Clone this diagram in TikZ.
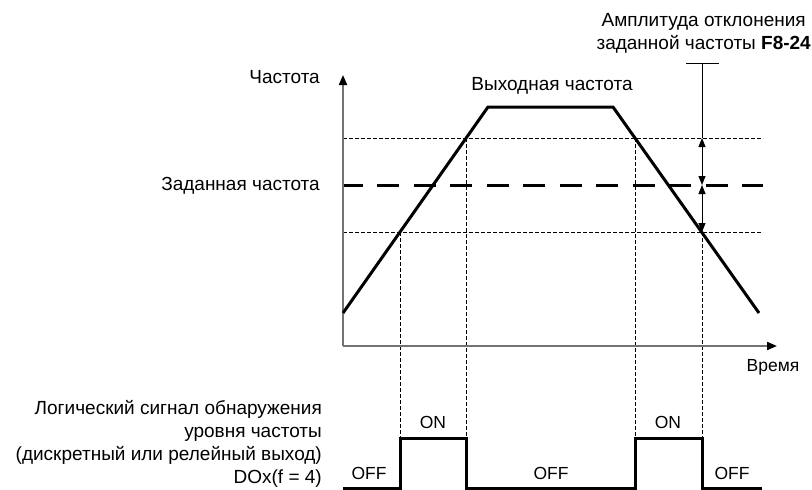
\documentclass[tikz,border=0pt]{standalone}
\usepackage{fontspec}
\setmainfont{Liberation Sans}
\usetikzlibrary{arrows.meta}
\begin{document}
\begin{tikzpicture}[x=1pt,y=-1pt,
  lbl/.style={font=\fontsize{17.5}{20}\selectfont, inner sep=0pt},
  txt/.style={font=\fontsize{19}{23}\selectfont, inner sep=0pt},
  axis/.style={draw=black!55, line width=2pt, line join=miter},
  axtip/.style={-{Triangle[length=10pt,width=8pt,color=black]}},
  curve/.style={line width=3pt, line join=miter},
  guide/.style={line width=0.8pt, dash pattern=on 3.5pt off 2.5pt},
  setline/.style={line width=3pt, dash pattern=on 22pt off 14.5pt, dash phase=2.5pt},
  dim/.style={line width=1pt},
  dimtips/.style={{Triangle[length=9pt,width=7pt]}-{Triangle[length=9pt,width=7pt]}},
]
\useasboundingbox (0,0) rectangle (812,490);

% key points
\coordinate (O) at (343,346);
\coordinate (Ytop) at (343,75);
\coordinate (Xend) at (777,346);
\coordinate (f0) at (343,313);
\coordinate (f1) at (488,107);
\coordinate (f2) at (613,107);
\coordinate (f3) at (759,313);
\coordinate (hiL) at (343,138);  \coordinate (hiR) at (763,138);
\coordinate (setL) at (343,185); \coordinate (setR) at (763,185);
\coordinate (loL) at (343,232);  \coordinate (loR) at (763,232);
% crossings of the output frequency with the band limits
\coordinate (c1) at (400,232);
\coordinate (c2) at (466,138);
\coordinate (c3) at (635,138);
\coordinate (c4) at (702,232);
\coordinate (ampTop) at (702,63);
\coordinate (ampSet) at (702,185);
\coordinate (ampHi) at (702,138);
\coordinate (barL) at (686,63); \coordinate (barR) at (719,63);
% pulse corners
\coordinate (p0) at (343,488);
\coordinate (p1) at (400,488); \coordinate (p1t) at (400,438);
\coordinate (p2t) at (466,438); \coordinate (p2) at (466,488);
\coordinate (p3) at (635,488); \coordinate (p3t) at (635,438);
\coordinate (p4t) at (702,438); \coordinate (p4) at (702,488);
\coordinate (p5) at (762,488);

% band limits and set frequency
\draw[guide] (hiL) -- (hiR);
\draw[guide] (loL) -- (loR);
\draw[setline] (setL) -- (setR);

% vertical guides down to the logic signal
\draw[guide] (c1) -- (p1t);
\draw[guide] (c2) -- (p2t);
\draw[guide] (c3) -- (p3t);
\draw[guide] (c4) -- (p4t);

% axes
\draw[axis, axtip] (O) -- (Xend);
\draw[axis, axtip] (O) -- (Ytop);

% output frequency
\draw[curve] (f0) -- (f1) -- (f2) -- (f3);

% deviation amplitude
\draw[dim] (ampTop) -- (ampHi);
\draw[dim] (barL) -- (barR);
\draw[dim, dimtips] (ampHi) -- (ampSet);
\draw[dim, dimtips] (ampSet) -- (c4);

% logic signal
\draw[curve] (p0) -- (p1) -- (p1t) -- (p2t) -- (p2) -- (p3) -- (p3t) -- (p4t) -- (p4) -- (p5);

% labels
\node[txt, anchor=east] (lf) at (320,77) {Частота};
\node[txt, anchor=east] (lset) at (320,186) {Заданная частота};
\node[txt] (lout) at (552,86) {Выходная частота};
\node[lbl] (ltime) at (773,367) {Время};
\node[txt, align=center, anchor=east] (lamp) at (811,33.5) {Амплитуда отклонения\\заданной частоты \textbf{F8-24}};
\node[txt, align=right, anchor=east] (lsig) at (322,444) {Логический сигнал обнаружения\\уровня частоты\\(дискретный или релейный выход)\\DOx(f = 4)};
\node[lbl] (on1) at (433,422) {ON};
\node[lbl] (on2) at (668,422) {ON};
\node[lbl] (off1) at (369,473) {OFF};
\node[lbl] (off2) at (551,473) {OFF};
\node[lbl] (off3) at (732,473) {OFF};
\end{tikzpicture}
\end{document}
